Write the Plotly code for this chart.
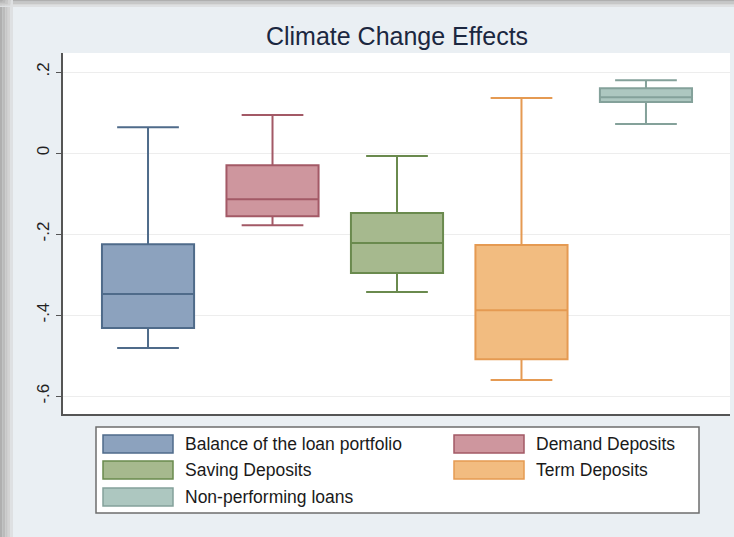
import plotly.graph_objects as go

# ---- data ----
series = ["Balance of the loan portfolio", "Demand Deposits", "Saving Deposits",
          "Term Deposits", "Non-performing loans"]
lower_whisker = [-0.481, -0.178, -0.343, -0.560, 0.072]
q1_values     = [-0.432, -0.156, -0.296, -0.509, 0.126]
medians       = [-0.348, -0.114, -0.222, -0.388, 0.138]
q3_values     = [-0.225, -0.030, -0.148, -0.227, 0.160]
upper_whisker = [0.064, 0.094, -0.007, 0.136, 0.180]
tick_values = [-0.6, -0.4, -0.2, 0.0, 0.2]
tick_labels = ["-.6", "-.4", "-.2", "0", ".2"]

fills = ["#8CA2BE", "#CE969E", "#A6B98E", "#F2BC80", "#ADC7C0"]
edges = ["#4F6B8A", "#A35966", "#6A8A4E", "#E59A52", "#84A19A"]

W, H = 734, 537
L, R, T, B = 63, 4, 53, 123
PW, PH = W - L - R, H - T - B

def px(x):
    return (x - L) / PW

def py(y):
    return (H - B - y) / PH

fig = go.Figure()
for i, name in enumerate(series):
    fig.add_trace(go.Box(
        x=[i], q1=[q1_values[i]], median=[medians[i]], q3=[q3_values[i]],
        lowerfence=[lower_whisker[i]], upperfence=[upper_whisker[i]],
        name=name, width=0.74, whiskerwidth=0.67,
        fillcolor=fills[i], line=dict(color=edges[i], width=2),
        boxpoints=False, showlegend=False, hoverinfo="skip",
    ))

shapes = []
# window shadow (screenshot frame)
for k, c in enumerate(["#AFAFAF", "#BBBBBB", "#C7C7C7", "#D3D3D3", "#DEE0E2"]):
    shapes.append(dict(type="rect", xref="paper", yref="paper", layer="below",
                       x0=px(0 + k * 2.6), x1=px(2.6 + k * 2.6), y0=py(H), y1=py(0),
                       fillcolor=c, line=dict(width=0)))
    shapes.append(dict(type="rect", xref="paper", yref="paper", layer="below",
                       x0=px(0), x1=px(W), y0=py(k * 1.4), y1=py(1.4 + k * 1.4),
                       fillcolor=c, line=dict(width=0)))

# legend box
shapes.append(dict(type="rect", xref="paper", yref="paper",
                   x0=px(96), x1=px(699), y0=py(513), y1=py(427),
                   fillcolor="white", line=dict(color="#6E6E6E", width=1.5)))
annotations = []
legend_pos = [(103, 444), (454, 444), (103, 470), (454, 470), (103, 497)]
for i, name in enumerate(series):
    sx, sy = legend_pos[i]
    shapes.append(dict(type="rect", xref="paper", yref="paper",
                       x0=px(sx), x1=px(sx + 70), y0=py(sy + 9), y1=py(sy - 9),
                       fillcolor=fills[i], line=dict(color=edges[i], width=1.5)))
    annotations.append(dict(xref="paper", yref="paper", x=px(sx + 80), y=py(sy),
                            text=name, showarrow=False, xanchor="left", yanchor="middle",
                            font=dict(family="Liberation Sans, Arial", size=17.5, color="#1A1A1A")))

fig.update_layout(
    width=W, height=H,
    margin=dict(l=L, r=R, t=T, b=B),
    paper_bgcolor="#EAEFF3", plot_bgcolor="white",
    title=dict(text="Climate Change Effects", x=px(397), xref="paper", xanchor="center",
               y=1 - 36 / H, yanchor="middle",
               font=dict(family="Liberation Sans, Arial", size=25, color="#1B2740")),
    shapes=shapes, annotations=annotations,
    boxmode="overlay", showlegend=False,
    xaxis=dict(range=[-0.683, 4.675], showticklabels=False, ticks="", showgrid=False,
               zeroline=False, showline=True, linecolor="#555555", linewidth=1.5),
    yaxis=dict(range=[-0.644, 0.247], tickvals=tick_values, ticktext=tick_labels,
               tickangle=-90, ticks="outside", ticklen=5, tickcolor="#555555",
               tickfont=dict(family="Liberation Sans, Arial", size=17, color="#222222"),
               showgrid=True, gridcolor="#EDEDED", gridwidth=1, zeroline=False,
               showline=True, linecolor="#555555", linewidth=1.5),
)

fig.write_html("out.html", config={"displayModeBar": False},
               post_script="document.body.style.margin='0';document.body.style.overflow='hidden';")
